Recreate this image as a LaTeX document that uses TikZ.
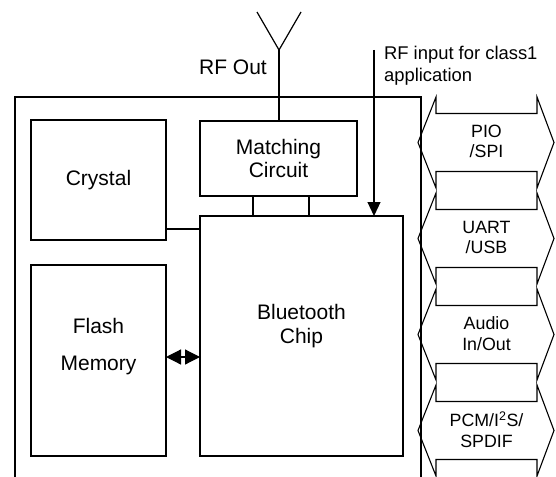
\documentclass[tikz,border=0pt]{standalone}
\usepackage{fontspec}
\setmainfont{Liberation Sans}
\usetikzlibrary{arrows.meta}
\newcommand\mainsz{\fontsize{21}{23.5}\selectfont}
\newcommand\rfsz{\fontsize{18.4}{22}\selectfont}
\newcommand\ifsz{\fontsize{17.8}{20.5}\selectfont}
\begin{document}
\begin{tikzpicture}[x=1pt,y=-1pt,line width=1.2pt,
  box/.style={draw,rectangle,inner sep=0pt,outer sep=0pt,align=center,font=\mainsz},
  txt/.style={inner sep=0pt,align=center,font=\mainsz},
  iftxt/.style={inner sep=0pt,align=center,font=\ifsz},
  ifshape/.style={line width=1.1pt,line join=miter},
  tipA/.style={-{Triangle[width=13pt,length=14pt]}},
  dblA/.style={{Triangle[width=15pt,length=15pt]}-{Triangle[width=15pt,length=15pt]}}]
\useasboundingbox (0,0) rectangle (556,476);
\fill[white] (0,0) rectangle (556,476);
% outer board
\draw (15,478) -- (15,97) -- (421,97) -- (421,478);
% blocks
\node[box,minimum width=135pt,minimum height=120pt] (crystal) at (98.5,180) {Crystal};
\node[box,minimum width=157pt,minimum height=75pt] (match) at (278.5,158.5) {Matching\\Circuit};
\node[box,minimum width=203pt,minimum height=240pt] (chip) at (301.5,336) {};
\node[txt] (chiptxt) at (301.5,326) {Bluetooth\\Chip};
\node[box,minimum width=135pt,minimum height=191pt] (flash) at (98.5,360.5) {};
\node[txt] (flashtxt) at (98.5,346.5) {Flash\\[13.5pt]Memory};
% antenna
\coordinate (anttip) at (279,50);
\coordinate (antl) at (257,12);
\coordinate (antr) at (301,12);
\draw (antl) -- (anttip) -- (antr);
\draw (anttip) -- (anttip |- match.north);
\node[txt] (rfout) at (233,67) {RF Out};
% RF input
\coordinate (rfin) at (374,50);
\draw[tipA] (rfin) -- (rfin |- chip.north);
\node[inner sep=0pt,anchor=west,align=left,font=\rfsz] (rfintxt) at (383.5,66) {RF input for class1\\application};
% matching to chip
\draw ([xshift=53pt]match.south west) -- ([xshift=53pt]chip.north west);
\draw ([xshift=109pt]match.south west) -- ([xshift=109pt]chip.north west);
% crystal to chip
\coordinate (xl) at ([yshift=11pt]crystal.south east);
\draw (xl) -- (xl -| chip.west);
% flash <-> chip
\coordinate (fa) at ([yshift=3.5pt]flash.east);
\draw[dblA] (fa) -- (fa -| chip.west);
% interfaces
\foreach \c/\t [count=\i] in {142.5/{PIO\\/SPI}, 238.5/{UART\\/USB}, 334.5/{Audio\\In/Out}, 430.5/{PCM/I\textsuperscript{2}S/\\SPDIF}}{
  \draw[ifshape] (418,\c) -- (436,\c-45.5) -- (436,\c-29) -- (537,\c-29) -- (537,\c-45.5)
    -- (554,\c) -- (537,\c+45.5) -- (537,\c+29) -- (436,\c+29) -- (436,\c+45.5) -- cycle;
  \node[iftxt] (if\i) at (486.5,\c-1) {\t};
}
\end{tikzpicture}
\end{document}
